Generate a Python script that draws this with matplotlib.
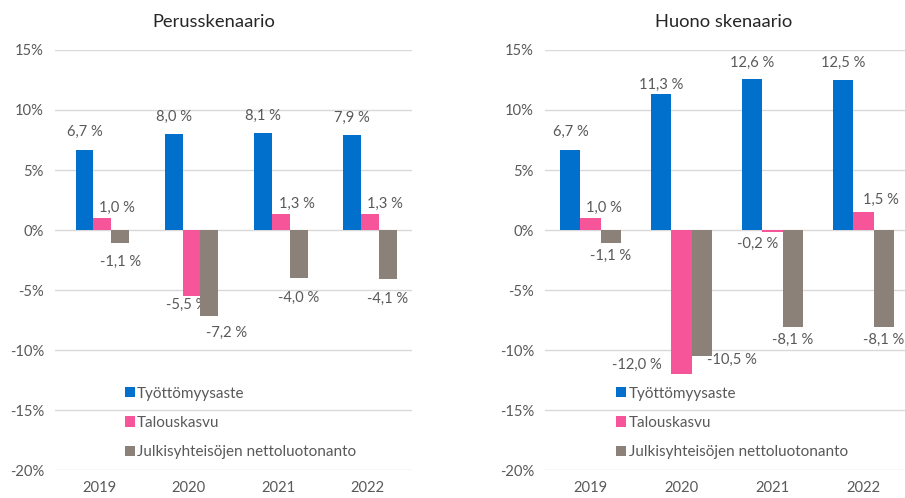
import numpy as np
import matplotlib.pyplot as plt

plt.rcParams['font.family'] = ['Lato', 'DejaVu Sans']

years = ['2019', '2020', '2021', '2022']
series = ['Työttömyysaste', 'Talouskasvu', 'Julkisyhteisöjen nettoluotonanto']
colors = ['#0070CC', '#F7559A', '#8B8178']

base_values = [
    [6.7, 8.0, 8.1, 7.9],
    [1.0, -5.5, 1.3, 1.3],
    [-1.1, -7.2, -4.0, -4.1],
]
bad_values = [
    [6.7, 11.3, 12.6, 12.5],
    [1.0, -12.0, -0.2, 1.5],
    [-1.1, -10.5, -8.1, -8.1],
]

# label centre offsets from bar end, in pixels (Excel nudges some of them)
base_offsets = [
    [(0, 18), (0, 17), (0, 17), (0, 17)],
    [(15, 10), (-5, -9), (16, 11), (15, 11)],
    [(0, -19), (17, -16), (0, -20), (0, -20)],
]
bad_offsets = [
    [(0, 18), (0, 10), (0, 16), (0, 17)],
    [(13, 10), (-45, 9), (-15, -11), (17, 12)],
    [(0, -13), (30, -4), (0, -13), (0, -13)],
]

txt = '#595959'
fig = plt.figure(figsize=(9.05, 4.98), dpi=100)


def panel(rect, title, title_x, values, offsets, w, shift):
    ax = fig.add_axes(rect)
    x = np.arange(len(years))
    for i, (name, vals, c) in enumerate(zip(series, values, colors)):
        pos = x + (i - 1) * w + shift
        ax.bar(pos, vals, width=w, color=c, label=name, zorder=3)
        for j, v in enumerate(vals):
            dx, dy = offsets[i][j]
            ax.annotate(f'{v:.1f} %'.replace('.', ','), (pos[j], v),
                        xytext=(dx, dy), textcoords='offset pixels',
                        ha='center', va='center', fontsize=10.6, color=txt)
    ax.set_ylim(-20, 15)
    ax.set_xlim(-0.5, 3.5)
    ax.set_yticks(np.arange(-20, 16, 5))
    ax.set_yticklabels([f'{t}%' for t in range(-20, 16, 5)])
    ax.set_xticks(x)
    ax.set_xticklabels(years)
    ax.tick_params(length=0, labelsize=10.6, colors=txt, pad=8)
    ax.yaxis.grid(True, color='#D9D9D9', lw=1, zorder=0)
    for s in ax.spines.values():
        s.set_visible(False)
    fig.text(title_x, 1 - 22 / 498, title, fontsize=13.2, color='#262626',
             ha='center', va='center')
    ax.legend(loc='center left', bbox_to_anchor=(0.196, 0.112), frameon=False,
              borderpad=0, borderaxespad=0,
              handlelength=0.65, handleheight=0.65, handletextpad=0.15,
              labelspacing=1.0, fontsize=11, labelcolor=txt)
    return ax


panel([55 / 905, 28 / 498, 357 / 905, 420 / 498], 'Perusskenaario', 214 / 905,
      base_values, base_offsets, 0.2, 0.03)
panel([545 / 905, 28 / 498, 364 / 905, 420 / 498], 'Huono skenaario', 724 / 905,
      bad_values, bad_offsets, 0.22, 0.0)

fig.savefig('out.png', dpi=100)
